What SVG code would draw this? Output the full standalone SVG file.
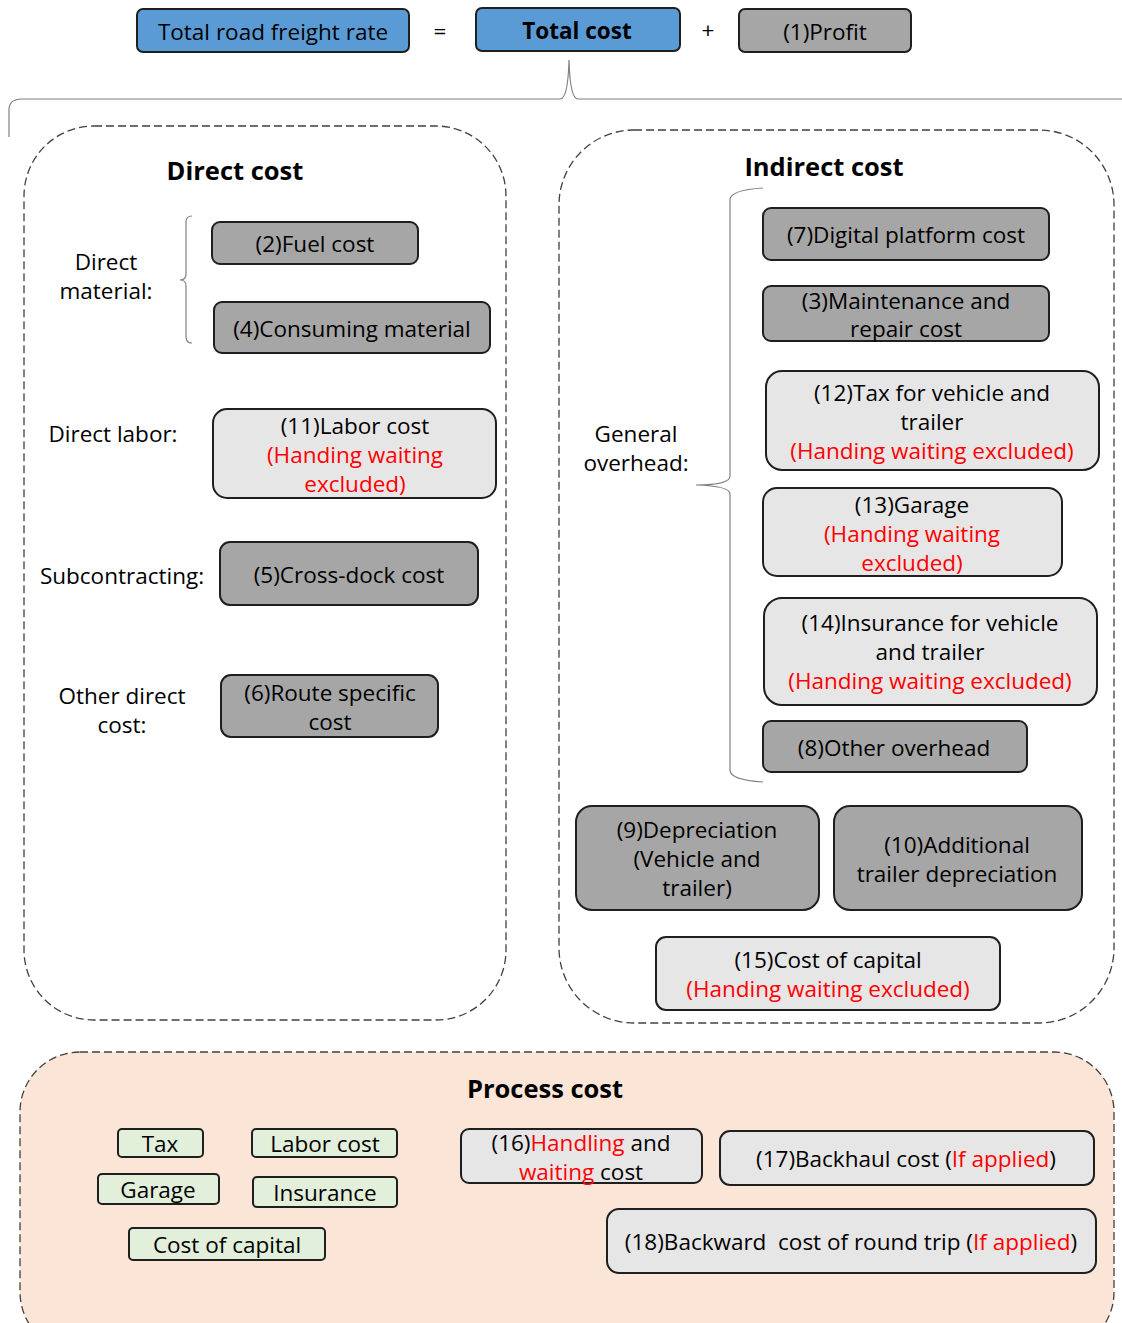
<svg xmlns="http://www.w3.org/2000/svg" width="1122" height="1323" viewBox="0 0 1122 1323">
<style>
text{font-family:"Open Sans","Noto Sans",sans-serif;font-size:22.5px;fill:#000;text-anchor:middle;dominant-baseline:central}
.b{font-weight:bold}
.t{font-size:25.5px;font-weight:bold}
.r{fill:#ff0000}
.blue{fill:#5b9bd5;stroke:#1f1f1f;stroke-width:2}
.gray{fill:#a6a6a6;stroke:#1f1f1f;stroke-width:2}
.light{fill:#e7e6e6;stroke:#1f1f1f;stroke-width:2}
.green{fill:#e2efda;stroke:#1f1f1f;stroke-width:2}
.dash{fill:none;stroke:#404040;stroke-width:1.3;stroke-dasharray:8 4}
.brace{fill:none;stroke:#808080;stroke-width:1.2}
</style>
<rect width="1122" height="1323" fill="#ffffff"/>

<g id="top">
  <g id="freight-rate"><rect class="blue" x="137" y="9" width="272" height="43" rx="6"/><text x="273" y="31">Total road freight rate</text></g>
  <text x="440" y="30">=</text>
  <g id="total-cost"><rect class="blue" x="476" y="8" width="204" height="43" rx="6"/><text class="b" x="577" y="30">Total cost</text></g>
  <text x="708" y="29">+</text>
  <g id="profit"><rect class="gray" x="739" y="9" width="172" height="43" rx="6"/><text x="825" y="31">(1)Profit</text></g>
</g>

<g id="connectors">
  <path class="brace" d="M9,137 L9,110 Q9,99 22,99 L560,99 Q568,99 569,60 Q570,99 578,99 L1122,99"/>
  <path class="brace" d="M192,216 Q186,216 186,222 L186,274 Q186,280 180,280 Q186,280 186,286 L186,337 Q186,343 192,343"/>
  <path class="brace" d="M763,188 Q730,190 730,200 L730,476 Q730,485 696,485 Q730,486 730,494 L730,770 Q730,780 763,782"/>
  <path class="brace" d="M420,1122 Q433,1122 433,1130 L433,1194 Q433,1201 447,1201 Q433,1202 433,1209 L433,1274 Q433,1281 420,1281"/>
</g>

<g id="direct-cost">
  <rect class="dash" x="24" y="126" width="482" height="894" rx="70"/>
  <text class="t" x="235" y="170">Direct cost</text>
  <text x="106" y="261">Direct</text>
  <text x="106" y="290">material:</text>
  <text x="113" y="433">Direct labor:</text>
  <text x="122" y="575">Subcontracting:</text>
  <text x="122" y="695">Other direct</text>
  <text x="122" y="724">cost:</text>
  <g id="n2"><rect class="gray" x="212" y="222" width="206" height="42" rx="8"/><text x="315" y="243">(2)Fuel cost</text></g>
  <g id="n4"><rect class="gray" x="214" y="302" width="276" height="51" rx="8"/><text x="352" y="328">(4)Consuming material</text></g>
  <g id="n11"><rect class="light" x="213" y="409" width="283" height="89" rx="14"/>
    <text x="355" y="425">(11)Labor cost</text><text class="r" x="355" y="454">(Handing waiting</text><text class="r" x="355" y="483">excluded)</text></g>
  <g id="n5"><rect class="gray" x="220" y="542" width="258" height="63" rx="10"/><text x="349" y="574">(5)Cross-dock cost</text></g>
  <g id="n6"><rect class="gray" x="221" y="675" width="217" height="62" rx="10"/><text x="330" y="692">(6)Route specific</text><text x="330" y="721">cost</text></g>
</g>

<g id="indirect-cost">
  <rect class="dash" x="559" y="130" width="555" height="893" rx="75"/>
  <text class="t" x="824" y="166">Indirect cost</text>
  <text x="636" y="433">General</text>
  <text x="636" y="462">overhead:</text>
  <g id="n7"><rect class="gray" x="763" y="208" width="286" height="52" rx="8"/><text x="906" y="234">(7)Digital platform cost</text></g>
  <g id="n3"><rect class="gray" x="763" y="286" width="286" height="55" rx="8"/><text x="906" y="300">(3)Maintenance and</text><text x="906" y="328">repair cost</text></g>
  <g id="n12"><rect class="light" x="766" y="371" width="333" height="99" rx="16"/>
    <text x="932" y="392">(12)Tax for vehicle and</text><text x="932" y="421">trailer</text><text class="r" x="932" y="450">(Handing waiting excluded)</text></g>
  <g id="n13"><rect class="light" x="763" y="488" width="299" height="88" rx="14"/>
    <text x="912" y="504">(13)Garage</text><text class="r" x="912" y="533">(Handing waiting</text><text class="r" x="912" y="562">excluded)</text></g>
  <g id="n14"><rect class="light" x="764" y="598" width="333" height="107" rx="18"/>
    <text x="930" y="622">(14)Insurance for vehicle</text><text x="930" y="651">and trailer</text><text class="r" x="930" y="680">(Handing waiting excluded)</text></g>
  <g id="n8"><rect class="gray" x="763" y="721" width="264" height="51" rx="8"/><text x="894" y="747">(8)Other overhead</text></g>
  <g id="n9"><rect class="gray" x="576" y="806" width="243" height="104" rx="16"/>
    <text x="697" y="829">(9)Depreciation</text><text x="697" y="858">(Vehicle and</text><text x="697" y="887">trailer)</text></g>
  <g id="n10"><rect class="gray" x="834" y="806" width="248" height="104" rx="16"/>
    <text x="957" y="844">(10)Additional</text><text x="957" y="873">trailer depreciation</text></g>
  <g id="n15"><rect class="light" x="656" y="937" width="344" height="73" rx="10"/>
    <text x="828" y="959">(15)Cost of capital</text><text class="r" x="828" y="988">(Handing waiting excluded)</text></g>
</g>

<g id="process-cost">
  <rect x="20" y="1052" width="1094" height="300" rx="60" fill="#fbe5d6" stroke="#404040" stroke-width="1.3" stroke-dasharray="8 4"/>
  <text class="t" x="545" y="1088">Process cost</text>
  <g id="p-tax"><rect class="green" x="118" y="1129" width="85" height="28" rx="4"/><text x="160" y="1143">Tax</text></g>
  <g id="p-labor"><rect class="green" x="252" y="1129" width="145" height="28" rx="4"/><text x="325" y="1143">Labor cost</text></g>
  <g id="p-garage"><rect class="green" x="98" y="1174" width="121" height="30" rx="4"/><text x="158" y="1189">Garage</text></g>
  <g id="p-insurance"><rect class="green" x="253" y="1177" width="144" height="30" rx="4"/><text x="325" y="1192">Insurance</text></g>
  <g id="p-capital"><rect class="green" x="129" y="1228" width="196" height="32" rx="4"/><text x="227" y="1244">Cost of capital</text></g>
  <g id="n16"><rect class="light" x="461" y="1129" width="241" height="54" rx="8"/>
    <text x="581" y="1142">(16)<tspan class="r">Handling</tspan> and</text>
    <text x="581" y="1171"><tspan class="r">waiting</tspan> cost</text></g>
  <g id="n17"><rect class="light" x="720" y="1131" width="374" height="54" rx="10"/>
    <text x="906" y="1158">(17)Backhaul cost (<tspan class="r">If applied</tspan>)</text></g>
  <g id="n18"><rect class="light" x="607" y="1209" width="489" height="64" rx="12"/>
    <text x="851" y="1241" xml:space="preserve">(18)Backward  cost of round trip (<tspan class="r">If applied</tspan>)</text></g>
</g>
</svg>
